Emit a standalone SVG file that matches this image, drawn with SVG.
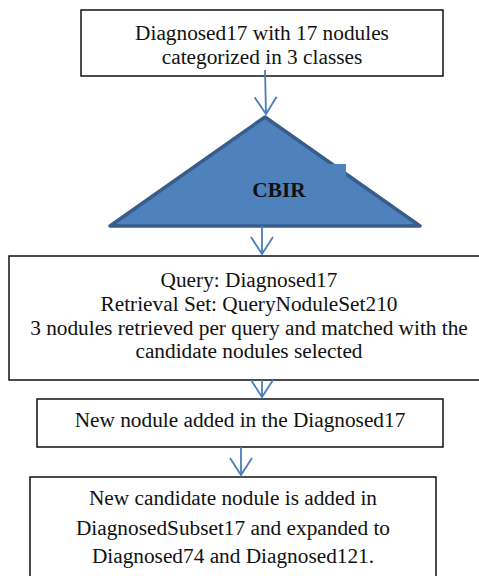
<svg xmlns="http://www.w3.org/2000/svg" width="479" height="576" viewBox="0 0 479 576">
<defs>
<style>
.box{fill:#fff;stroke:#111;stroke-width:1.5}
.t{font-family:'Liberation Serif';font-size:21.3px;fill:#111;text-anchor:middle}
.c{stroke:#4A7EBB;stroke-width:1.8;fill:none}
</style>
<marker id="ah" viewBox="0 0 20 24" refX="18" refY="12" markerWidth="20" markerHeight="24" markerUnits="userSpaceOnUse" orient="auto">
<path d="M1,1 L18,12 L1,23" fill="none" stroke="#4A7EBB" stroke-width="1.8"/>
</marker>
</defs>
<rect width="479" height="576" fill="#fff"/>
<g id="n1">
<rect class="box" x="81" y="10" width="362" height="66"/>
<text class="t" x="262" y="40">Diagnosed17 with 17 nodules</text>
<text class="t" x="262" y="64">categorized in 3 classes</text>
</g>
<g id="n2">
<polygon points="265,117 420,226 110,226" fill="#4F81BD" stroke="#385D8A" stroke-width="3.5" stroke-linejoin="round"/>
<rect x="213" y="164" width="133" height="60" fill="#4F81BD"/>
<text class="t" x="279" y="197" font-weight="bold">CBIR</text>
</g>
<g id="n3">
<rect class="box" x="9" y="256" width="490" height="124"/>
<text class="t" x="249" y="287">Query: Diagnosed17</text>
<text class="t" x="249" y="311">Retrieval Set: QueryNoduleSet210</text>
<text class="t" x="249" y="335">3 nodules retrieved per query and matched with the</text>
<text class="t" x="249" y="358">candidate nodules selected</text>
</g>
<g id="n4">
<rect class="box" x="37" y="399" width="406" height="48"/>
<text class="t" x="240" y="427">New nodule added in the Diagnosed17</text>
</g>
<g id="n5">
<rect class="box" x="30" y="477" width="406" height="110"/>
<text class="t" x="233" y="505">New candidate nodule is added in</text>
<text class="t" x="233" y="535">DiagnosedSubset17 and expanded to</text>
<text class="t" x="233" y="563">Diagnosed74 and Diagnosed121.</text>
</g>
<g id="connectors">
<path class="c" d="M265,70 L266,114" marker-end="url(#ah)"/>
<path class="c" d="M262,226 L262,254" marker-end="url(#ah)"/>
<path class="c" d="M262,380 L262,397" marker-end="url(#ah)"/>
<path class="c" d="M241,447 L241,475" marker-end="url(#ah)"/>
</g>
</svg>
